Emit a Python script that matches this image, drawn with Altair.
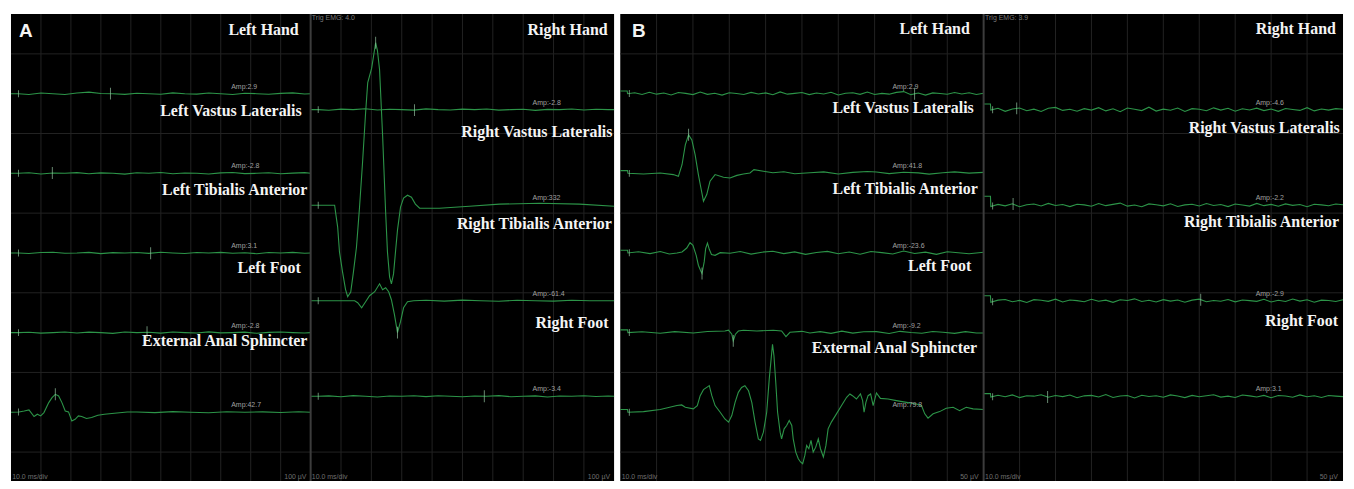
import altair as alt
import numpy as np
import pandas as pd

# ---------------- values ----------------
# x: time in ms (10 ms/div, 10 divisions); y: amplitude in µV
UV_PER_DIV_A = 100.0
UV_PER_DIV_B = 50.0

LEFT_CHANNELS = ["Left Hand", "Left Vastus Lateralis", "Left Tibialis Anterior",
                 "Left Foot", "External Anal Sphincter"]
RIGHT_CHANNELS = ["Right Hand", "Right Vastus Lateralis", "Right Tibialis Anterior",
                  "Right Foot"]

# trace baselines, in divisions from the top of each column
BASE_LEFT = [1.0, 2.0, 3.0, 4.0, 5.0]
BASE_RIGHT = [1.2, 2.4, 3.6, 4.8]

AMP_A_LEFT = ["Amp:2.9", "Amp:-2.8", "Amp:3.1", "Amp:-2.8", "Amp:42.7"]
AMP_A_RIGHT = ["Amp:-2.8", "Amp:332", "Amp:-61.4", "Amp:-3.4"]
AMP_B_LEFT = ["Amp:2.9", "Amp:41.8", "Amp:-23.6", "Amp:-9.2", "Amp:79.8"]
AMP_B_RIGHT = ["Amp:-4.6", "Amp:-2.2", "Amp:-2.9", "Amp:3.1"]

# ---- panel A (100 µV/div) ----
FLAT_T_A = [0, 2.5, 6, 10, 14, 18, 22, 26, 30, 34, 38, 42, 46, 50, 54, 58, 62, 66,
            70, 74, 78, 82, 86, 90, 94, 98, 100]
A_L_HAND = [0, 0, -1.0, 0.8, 0, -1.1, 0.9, 2.0, 0.3, 0, -0.9, 0.6, 0, -0.8, 1.0, 0,
            -0.6, 0.8, 0, -1.0, 0.6, 0, -0.8, 0.4, 1.0, -0.4, 0]
A_L_VL = [0, 0, 0.7, -0.9, 0.4, 0, 0.9, -0.5, 0.6, 0, -1.0, 0.8, 0, 1.0, -0.6, 0.4,
          0, -0.8, 0.6, 1.1, -0.4, 0, 0.8, -0.6, 0.3, 0.9, 0]
A_L_TA = [0, 0, -0.6, 0.5, 0.9, -0.3, 0, 0.7, -0.8, 0.4, 0, 0.6, -0.5, 0.9, 0, -0.7,
          0.5, 0, 0.8, -0.4, 0.3, -0.9, 0.5, 0, 0.7, -0.3, 0]
A_L_FOOT = [0, 0, 0.5, -0.7, 0, 0.8, -0.4, 0.6, 0, -0.9, 0.7, 0, 0.4, -0.6, 0.8, 0,
            -0.5, 0.9, -0.3, 0, 0.6, -0.8, 0.3, 0.7, 0, -0.5, 0]
A_L_EAS_T = [0, 2.7, 4.4, 6.0, 7.7, 8.8, 9.9, 11.0, 12.6, 13.7, 14.8, 15.9, 17.0, 18.1,
             19.2, 20.3, 21.4, 22.5, 23.6, 25.2, 26.9, 29.0, 31.2, 34.5, 38.8, 42, 48,
             54, 60, 66, 72, 78, 84, 90, 96, 100]
A_L_EAS_V = [0, 0.4, 1.6, 2.9, -5.4, -2.5, -4.6, -0.4, 12.1, 18.4, 22.5, 20.4, 12.1,
             1.6, 0.4, -10.9, -8.8, -4.6, -5.4, -7.9, -6.6, -3.8, -2.5, -1.3, 0.4, 0.4,
             -0.5, 0.8, 0, -0.6, 0.7, 0, 0.5, -0.4, 0.6, 0]

A_R_HAND = [0, 0, -0.8, 0.6, 0, 1.0, -0.5, 0.4, 0, -0.7, 0.9, 0, -0.4, 0.6, 0, 0.8,
            -0.6, 0, 0.5, -0.9, 0.3, 0, 0.7, -0.5, 0.4, 0, 0]
A_R_VL_T = [0, 7.9, 8.2, 8.9, 9.5, 10.5, 11.5, 12.2, 13.2, 14.1, 15.1, 16.1, 17.1, 18.1,
            18.8, 20.1, 21.4, 22.0, 22.7, 23.7, 24.7, 25.3, 26.0, 26.6, 27.3, 28.0, 28.6,
            29.6, 30.6, 31.9, 33.2, 34.5, 35.9, 42.4, 52.3, 62.2, 75.3, 88.5, 100]
A_R_VL_V = [0, 0, -8.8, -27.5, -58.8, -83.8, -106, -115, -109, -83.8, -52.5, -2.5, 53.8,
            116, 154, 172, 204, 194, 170, 87.5, -8.8, -58.8, -90, -98.8, -86.3, -56.3,
            -31.3, -2.5, 8.8, 12.5, 10, 1.3, -3.8, -3.8, -1.3, 1.3, 2.5, 1.3, -1.3]
A_R_TA_T = [0, 14.5, 15.5, 16.8, 18.1, 19.4, 21.1, 22.7, 23.7, 24.7, 25.7, 26.6, 27.6,
            28.6, 29.6, 30.6, 31.9, 33.9, 38, 44, 50, 56, 62, 68, 74, 80, 86, 92, 100]
A_R_TA_V = [0, 0, -2.5, -8.8, -1.3, 6.3, 11.3, 21.3, 13.8, 16.3, 11.3, 1.3, -17.5, -40,
            -26.3, -8.8, -1.3, 0, 0.6, -0.5, 0.8, 0, -0.6, 0.7, 0, -0.5, 0.6, 0, 0]
A_R_FOOT = [0, 0, 0.6, -0.5, 0.9, 0, -0.8, 0.5, 0, 0.7, -0.4, 0.8, 0, -0.6, 0.4, 0, 0.9,
            -0.5, 0, 0.6, -0.8, 0.4, 0, 0.7, -0.3, 0.5, 0]

# ---- panel B (50 µV/div) ----
FLAT_T_B = [0, 1.9, 2, 4, 6, 8, 10, 12, 14, 16, 18, 20, 22, 24, 26, 28, 30, 32, 34, 36,
            38, 40, 42, 44, 46, 48, 50, 52, 54, 56, 58, 60, 62, 64, 66, 68, 70, 72, 74,
            76, 78, 80, 82, 84, 86, 88, 90, 92, 94, 96, 98, 100]
B_L_HAND = [1.7, 1.7, 0, 0.6, -0.5, 0.9, -0.3, 0.4, -0.8, 0.7, 0.2, -0.6, 1.0, -0.4,
            0.3, -0.9, 0.6, 0.1, -0.5, 0.8, -0.2, 0.5, -0.7, 1.1, -0.3, 0.2, 0.7, -0.6,
            0.4, -0.2, 0.9, -0.8, 0.3, 0.6, -0.4, 1.0, -0.5, 0.2, -0.3, 0.8, 1.3, -0.6,
            0.4, -0.9, 0.5, 0.1, -0.4, 0.7, -0.2, 0.6, -0.5, 0.3]
B_L_VL_T = [0, 2.0, 2.1, 6.4, 11.0, 14.6, 16.0, 17.0, 17.9, 18.8, 19.7, 20.6, 21.5, 22.2,
            22.9, 23.8, 24.7, 26.1, 28.4, 30.2, 32.1, 33.9, 35.7, 36.8, 39.4, 42, 45, 48,
            52.2, 56, 60, 64, 68, 70.5, 74, 78, 82, 85, 88.8, 92, 96, 100]
B_L_VL_V = [1.7, 1.7, 0, -0.4, 0.2, -0.8, -1.9, 5.4, 17.9, 24.2, 21.0, 11.7, -0.8, -9.2,
            -17.5, -13.3, -5.0, -0.8, -2.5, -2.9, -1.3, -0.4, 0.2, 2.3, 1.3, 0.4, 1.0,
            -0.3, 0.4, 0.9, -0.4, 0.6, 1.1, 0.8, -0.2, 0.7, 0.3, -0.5, 0.4, 0.9, 0.1, 0.6]
B_L_TA_T = [0, 2.0, 2.1, 5, 8.2, 11, 13.5, 15.6, 17.0, 18.3, 19.2, 20.0, 20.9, 21.5, 22.1,
            22.5, 23.1, 23.5, 24.0, 24.5, 25.1, 26.1, 27.5, 30.2, 33, 36, 39, 42, 45, 48,
            51, 54, 57, 60, 63, 66, 69, 72, 75, 78, 81, 84, 87, 90, 93, 96, 100]
B_L_TA_V = [1.7, 1.7, 0, 0.8, -0.4, 0.9, -0.6, 0, 0.6, 3.1, 6.5, 4.8, -1.5, -7.7, -11.0,
            -12.9, -5.6, 2.7, 6.2, 2.3, -1.0, -1.5, 0.2, -0.2, 0.9, -0.7, 0.5, 1.1, -0.4,
            0.7, -0.9, 0.3, 1.0, -0.5, 0.6, -0.8, 0.9, 0.2, -0.6, 1.2, -0.3, 0.5, -0.9,
            0.8, 0.1, -0.5, 0.4]
B_L_FOOT_T = [0, 2.0, 2.1, 6, 11.0, 15, 20.1, 24, 28.8, 29.8, 30.7, 31.1, 31.7, 32.5,
              33.9, 37.6, 42.1, 44.4, 45.6, 46.7, 50, 52.2, 55, 58, 61, 64, 67, 70.5, 74,
              77, 80, 83, 86, 88.8, 92, 95, 98, 100]
B_L_FOOT_V = [1.7, 1.7, 0, 0.5, -0.4, 0.6, -0.2, 0.7, 1.0, 1.5, -1.0, -5.2, -1.0, 1.0,
              1.5, 1.0, 1.5, 1.0, -2.5, 0.2, 0.8, -0.2, 0.6, -0.5, 0.9, -0.3, 0.5, 0.6,
              -0.6, 0.8, 0.1, -0.4, 0.7, 0.2, -0.5, 0.6, -0.2, -0.2]
B_L_EAS_T = [0, 2.0, 2.1, 6.4, 11.0, 15.6, 16.9, 17.9, 20.1, 21.2,
             22.0, 22.9, 23.8, 24.5, 25.2, 26.1, 27.5, 28.8, 29.8, 30.7,
             31.6, 32.5, 33.4, 34.3, 35.3, 36.2, 37.1, 38.0, 38.6, 39.4,
             40.3, 41.0, 41.6, 41.9, 42.3, 42.8, 43.3, 44.0, 44.4, 45.1,
             45.8, 46.5, 47.2, 47.6, 48.3, 49.0, 49.6, 50.2, 50.8, 51.3,
             51.9, 52.5, 53.1, 53.8, 54.5, 55.1, 55.9, 56.6, 57.2, 58.1,
             59.5, 60.9, 62.3, 63.2, 63.9, 65.0, 66.1, 66.7, 67.1, 67.6,
             68.2, 68.9, 69.6, 70.5, 71.6, 73.7, 76.0, 78.8, 81.5, 82.9,
             83.8, 84.7, 86.1, 87.9, 89.7, 91.6, 93.4, 95.2, 97.1, 100]
B_L_EAS_V = [1.7, 1.7, 0, 0.4, 1.7, 4.2, 4.6, 3.1, 2.1, 4.2,
             10.4, 14.2, 15.6, 16.7, 10.4, 4.2, 0, -4.2, -6.2, -2.1,
             6.2, 12.5, 15.6, 16.7, 13.5, 6.2, -6.2, -16.7, -17.7, -12.5,
             0, 20.8, 35.4, 42.7, 35.4, 18.7, 0, -12.5, -16.7, -10.4,
             -8.3, -5.2, -8.3, -16.7, -25.0, -29.2, -31.2, -32.3, -27.1, -20.8,
             -22.9, -17.7, -25.0, -21.9, -16.7, -22.9, -28.1, -20.8, -10.4, -6.2,
             -1.0, 4.2, 9.4, 11.5, 10.4, 8.3, 11.5, 7.3, 0, 6.2,
             10.4, 11.5, 4.2, 12.1, 8.7, 8.3, 7.3, 6.2, 5.2, 4.2,
             -1.0, -3.7, -1.0, 0.4, 2.5, 3.1, 1.0, 3.1, 2.1, 1.7]

B_R_HAND = [3.5, 3.5, -0.3, 0.8, -1.1, 0.4, 1.0, -0.7, 0.3, -1.2, 0.9, 1.4, -0.5, 0.2,
            -1.0, 0.6, -0.3, 1.2, -0.8, 0.5, -1.3, 1.0, 0.2, -0.6, 1.5, -0.9, 0.3, -0.4,
            1.0, -1.2, 0.6, 0.2, -0.7, 1.1, -0.3, 0.8, -1.0, 0.5, -0.2, 0.9, -0.6, 0.4,
            -1.1, 0.7, 0.1, -0.5, 1.2, -0.8, 0.4, -0.3, 0.6, 0.2]
B_R_VL = [5.6, 5.6, -0.8, 0.5, -0.4, 0.9, -1.0, 0.3, 0.7, -0.5, 1.1, -0.2, 0.4, -0.9,
          0.6, 0.2, -0.7, 1.0, -0.3, 0.5, 1.3, -0.6, 0.1, -1.0, 0.8, 0.3, -0.4, 0.9,
          -0.8, 0.2, 0.6, -0.5, 1.0, -0.2, 0.4, -0.9, 0.7, 0.1, -0.6, 1.1, -0.3, 0.5,
          -0.7, 0.8, -0.1, 0.4, -1.0, 0.6, 0.2, -0.4, 0.7, 0.3]
B_R_TA = [3.1, 3.1, -0.9, 0.4, 0.8, -0.6, 0.2, -1.1, 0.7, 0.3, -0.4, 1.0, -0.8, 0.5,
          0.1, -0.6, 0.9, -0.3, 0.4, -1.0, 0.6, 0.2, 1.2, -0.5, 0.3, -0.8, 0.7, -0.2,
          0.5, -0.9, 0.4, 1.0, -0.6, 0.2, -0.3, 0.8, -0.7, 0.5, 0.1, -0.4, 0.9, -0.8,
          0.3, -0.5, 1.1, -0.2, 0.6, -0.9, 0.4, 0.2, -0.5, 0.6]
B_R_FOOT = [1.7, 1.7, -0.5, 0.7, -0.3, 0.9, -0.8, 0.4, 0.1, 1.0, -0.6, 0.5, -0.2, 0.8,
            -0.9, 0.3, 0.6, -0.4, 1.1, -0.7, 0.2, 0.5, -1.0, 0.7, -0.1, 0.4, -0.6, 0.9,
            0.2, -0.8, 0.6, -0.3, 0.4, 1.0, -0.5, 0.1, -0.7, 0.8, 0.3, -0.4, 0.6, -0.9,
            0.5, 0.2, -0.6, 0.9, -0.3, 0.4, -0.7, 0.5, 0.1, -0.2]

# latency cursor times (ms), one per channel (None = no cursor)
CURSOR_A_LEFT = [33.2, 13.8, 46.6, 45.4, 14.8]
CURSOR_A_RIGHT = [34.2, 21.4, 28.6, 57.2]
CURSOR_B_LEFT = [81.0, 18.8, 22.5, 31.1, None]
CURSOR_B_RIGHT = [9.2, 8.2, 60.4, 17.8]
START_MARK_T = 2.5

# label anchors: right edge (ms) and text baseline (divisions from top)
LAB_A_LEFT_X = [96.0, 97.0, 98.9, 96.7, 98.9]
LAB_A_LEFT_Y = [0.266, 1.279, 2.266, 3.246, 4.171]
LAB_A_RIGHT_X = [97.8, 99.4, 99.2, 98.1]
LAB_A_RIGHT_Y = [0.266, 1.55, 2.70, 3.94]
LAB_B_LEFT_X = [96.2, 97.3, 98.4, 96.6, 98.2]
LAB_B_LEFT_Y = [0.246, 1.246, 2.259, 3.225, 4.259]
LAB_B_RIGHT_X = [98.0, 99.1, 98.9, 98.6]
LAB_B_RIGHT_Y = [0.254, 1.496, 2.675, 3.9125]

GRID_T = [10, 20, 30, 40, 50, 60, 70, 80, 90]
GRID_Y = [0.5, 1.5, 2.5, 3.5, 4.5, 5.5]

# ---------------- styles ----------------
GREEN = "#2c9448"
CURSOR = "#93c29f"
GRID = "#222222"
SEP = "#3c3c3c"
WHITE = "#f4f4f4"
SMALL = "#a0a0a0"
SERIF = "Liberation Serif"
SANS = "Liberation Sans"
PANEL_H = 469
Y_MAX = PANEL_H / 80.0  # 80 px per division


def X():
    return alt.X("t:Q", scale=alt.Scale(domain=[0, 100], nice=False, zero=False), axis=None)


def Y():
    return alt.Y("y:Q", scale=alt.Scale(domain=[0, Y_MAX], nice=False, zero=False,
                                        reverse=True), axis=None)


def panel(width, uvdiv, bases, traces, cursors, amps, amp_x, names, lab_x, lab_y,
          top_text=None, bottom_right="", letter=None, letter_x=0, left_sep=False):
    rows, marks, starts = [], [], []
    for i, (t, v) in enumerate(traces):
        t = list(t)[:len(v)]
        v = list(v)[:len(t)]
        for tt, vv in zip(t, v):
            rows.append({"t": tt, "y": bases[i] - vv / uvdiv, "ch": i})
        starts.append({"t": START_MARK_T,
                       "y": bases[i] - float(np.interp(START_MARK_T, t, v)) / uvdiv})
        if cursors[i] is not None:
            marks.append({"t": cursors[i],
                          "y": bases[i] - float(np.interp(cursors[i], t, v)) / uvdiv})
    tr = pd.DataFrame(rows)
    mk = pd.DataFrame(marks)
    st = pd.DataFrame(starts)
    amp_df = pd.DataFrame({"t": [amp_x] * len(amps),
                           "y": [b - 0.05 for b in bases], "txt": amps})
    lab_df = pd.DataFrame({"t": lab_x, "y": lab_y, "txt": names})
    foot_l = pd.DataFrame({"t": [0.4], "y": [Y_MAX - 0.03], "txt": ["10.0 ms/div"]})
    foot_r = pd.DataFrame({"t": [98.6], "y": [Y_MAX - 0.03], "txt": [bottom_right]})
    gx = pd.DataFrame({"t": GRID_T})
    gy = pd.DataFrame({"y": GRID_Y})

    layers = [
        alt.Chart(gx).mark_rule(color=GRID, strokeWidth=1).encode(x=X()),
        alt.Chart(gy).mark_rule(color=GRID, strokeWidth=1).encode(y=Y()),
        alt.Chart(tr).mark_line(color=GREEN, strokeWidth=1.1, interpolate="linear")
        .encode(x=X(), y=Y(), detail="ch:N"),
        alt.Chart(st).mark_tick(orient="vertical", color=CURSOR, size=7, thickness=1)
        .encode(x=X(), y=Y()),
        alt.Chart(mk).mark_tick(orient="vertical", color=CURSOR, size=12, thickness=1)
        .encode(x=X(), y=Y()),
        alt.Chart(amp_df).mark_text(align="left", baseline="bottom", font=SANS,
                                    fontSize=7, color=SMALL)
        .encode(x=X(), y=Y(), text="txt:N"),
        alt.Chart(lab_df).mark_text(align="right", baseline="alphabetic", font=SERIF,
                                    fontSize=16, fontWeight="bold", color=WHITE)
        .encode(x=X(), y=Y(), text="txt:N"),
        alt.Chart(foot_l).mark_text(align="left", baseline="alphabetic", font=SANS,
                                    fontSize=7, color="#6f6f6f")
        .encode(x=X(), y=Y(), text="txt:N"),
        alt.Chart(foot_r).mark_text(align="right", baseline="alphabetic", font=SANS,
                                    fontSize=7, color="#6f6f6f")
        .encode(x=X(), y=Y(), text="txt:N"),
    ]
    if left_sep:
        layers.append(alt.Chart(pd.DataFrame({"t": [0]}))
                      .mark_rule(color=SEP, strokeWidth=2).encode(x=X()))
    if top_text:
        tt = pd.DataFrame({"t": [0.4], "y": [0.079], "txt": [top_text]})
        layers.append(alt.Chart(tt).mark_text(align="left", baseline="alphabetic",
                                              font=SANS, fontSize=7, color="#7a7a7a")
                      .encode(x=X(), y=Y(), text="txt:N"))
    if letter:
        lt = pd.DataFrame({"t": [letter_x], "y": [0.29], "txt": [letter]})
        layers.append(alt.Chart(lt).mark_text(align="left", baseline="alphabetic",
                                              font=SANS, fontSize=19, fontWeight="bold",
                                              color=WHITE)
                      .encode(x=X(), y=Y(), text="txt:N"))
    return alt.layer(*layers).properties(width=width, height=PANEL_H)


a_left = panel(
    301, UV_PER_DIV_A, BASE_LEFT,
    [(FLAT_T_A, A_L_HAND), (FLAT_T_A, A_L_VL), (FLAT_T_A, A_L_TA),
     (FLAT_T_A, A_L_FOOT), (A_L_EAS_T, A_L_EAS_V)],
    CURSOR_A_LEFT, AMP_A_LEFT, 73.5, LEFT_CHANNELS, LAB_A_LEFT_X, LAB_A_LEFT_Y,
    bottom_right="100 µV", letter="A", letter_x=2.7)

a_right = panel(
    305, UV_PER_DIV_A, BASE_RIGHT,
    [(FLAT_T_A, A_R_HAND), (A_R_VL_T, A_R_VL_V), (A_R_TA_T, A_R_TA_V),
     (FLAT_T_A, A_R_FOOT)],
    CURSOR_A_RIGHT, AMP_A_RIGHT, 73.1, RIGHT_CHANNELS, LAB_A_RIGHT_X, LAB_A_RIGHT_Y,
    top_text="Trig EMG: 4.0", bottom_right="100 µV", left_sep=True)

b_left = panel(
    365, UV_PER_DIV_B, BASE_LEFT,
    [(FLAT_T_B, B_L_HAND), (B_L_VL_T, B_L_VL_V), (B_L_TA_T, B_L_TA_V),
     (B_L_FOOT_T, B_L_FOOT_V), (B_L_EAS_T, B_L_EAS_V)],
    CURSOR_B_LEFT, AMP_B_LEFT, 74.9, LEFT_CHANNELS, LAB_B_LEFT_X, LAB_B_LEFT_Y,
    bottom_right="50 µV", letter="B", letter_x=3.2)

b_right = panel(
    361, UV_PER_DIV_B, BASE_RIGHT,
    [(FLAT_T_B, B_R_HAND), (FLAT_T_B, B_R_VL), (FLAT_T_B, B_R_TA), (FLAT_T_B, B_R_FOOT)],
    CURSOR_B_RIGHT, AMP_B_RIGHT, 75.7, RIGHT_CHANNELS, LAB_B_RIGHT_X, LAB_B_RIGHT_Y,
    top_text="Trig EMG: 3.9", bottom_right="50 µV", left_sep=True)

# white gutter between panel A and panel B
gutter = (
    alt.Chart(pd.DataFrame({"t": [0]}))
    .mark_rule(opacity=0)
    .encode(x=X())
    .properties(width=6, height=PANEL_H,
                view=alt.ViewBackground(fill="white", stroke="transparent", strokeWidth=0))
)

chart = alt.hconcat(
    a_left, a_right, gutter, b_left, b_right, spacing=0, bounds="flush"
).properties(
    background="white",
    padding={"left": 0, "top": 4, "right": 0, "bottom": 0},
).configure_view(
    fill="black", stroke="transparent", strokeWidth=0
)

chart.save("out.html", embed_options={"renderer": "svg", "actions": False})
